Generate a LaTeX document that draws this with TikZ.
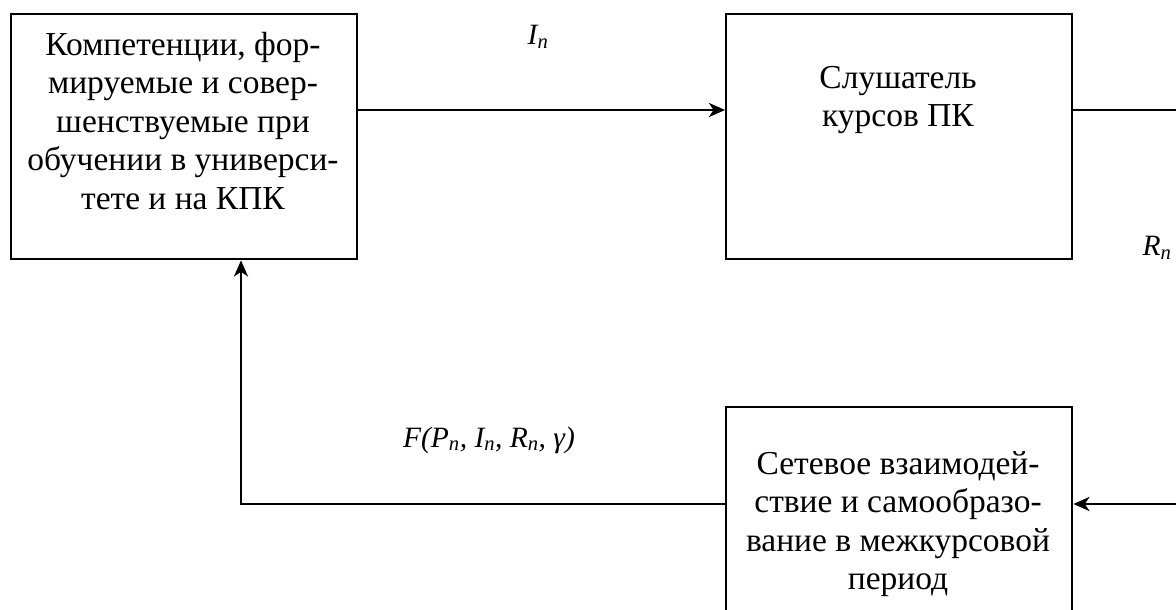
\documentclass[tikz,border=0pt]{standalone}
\usepackage{fontspec}
\setmainfont{Liberation Serif}
\usetikzlibrary{arrows.meta}
\begin{document}
\begin{tikzpicture}[x=1pt,y=-1pt,
  box/.style={draw, line width=2.4pt, inner sep=0pt, anchor=north west},
  btext/.style={align=center, inner sep=0pt, font=\fontsize{33.5}{38.5}\selectfont},
  lbl/.style={inner sep=0pt, font=\fontsize{29.5}{34}\selectfont\itshape},
  conn/.style={line width=2.6pt},
  arr/.style={conn, -{Stealth[length=16pt,width=14pt,inset=4.5pt]}}]
\useasboundingbox (0,0) rectangle (1176,610);
% boxes
\node[box, minimum width=346pt, minimum height=245pt] (b1) at (10,13) {};
\node[box, minimum width=346pt, minimum height=245pt] (b2) at (725,13) {};
\node[box, minimum width=346pt, minimum height=240pt] (b3) at (725,406) {};
% texts
\node[btext] (t1) at (183,121) {Компетенции, фор-\\мируемые и совер-\\шенствуемые при\\обучении в универси-\\тете и на КПК};
\node[btext] (t2) at (898,100) {Слушатель\\курсов ПК};
\node[btext] (t3) at (898,524) {Сетевое взаимодей-\\ствие и самообразо-\\вание в межкурсовой\\период};
% labels
\node[lbl] (li) at (538,37) {I\textsubscript{n}};
\node[lbl] (lr) at (1157,248) {R\textsubscript{n}};
\node[lbl] (lf) at (489,440) {F(P\textsubscript{n}, I\textsubscript{n}, R\textsubscript{n}, γ)};
% connectors
\coordinate (r1) at (1178,110);
\coordinate (r2) at (1178,504);
\coordinate (lc) at (241,504);
\draw[arr] (b1.east |- r1) -- (b2.west |- r1);
\draw[conn] (b2.east |- r1) -- (r1);
\draw[arr] (r2) -- (b3.east |- r2);
\draw[arr] (b3.west |- r2) -- (lc) -- (lc |- b1.south);
\end{tikzpicture}
\end{document}
